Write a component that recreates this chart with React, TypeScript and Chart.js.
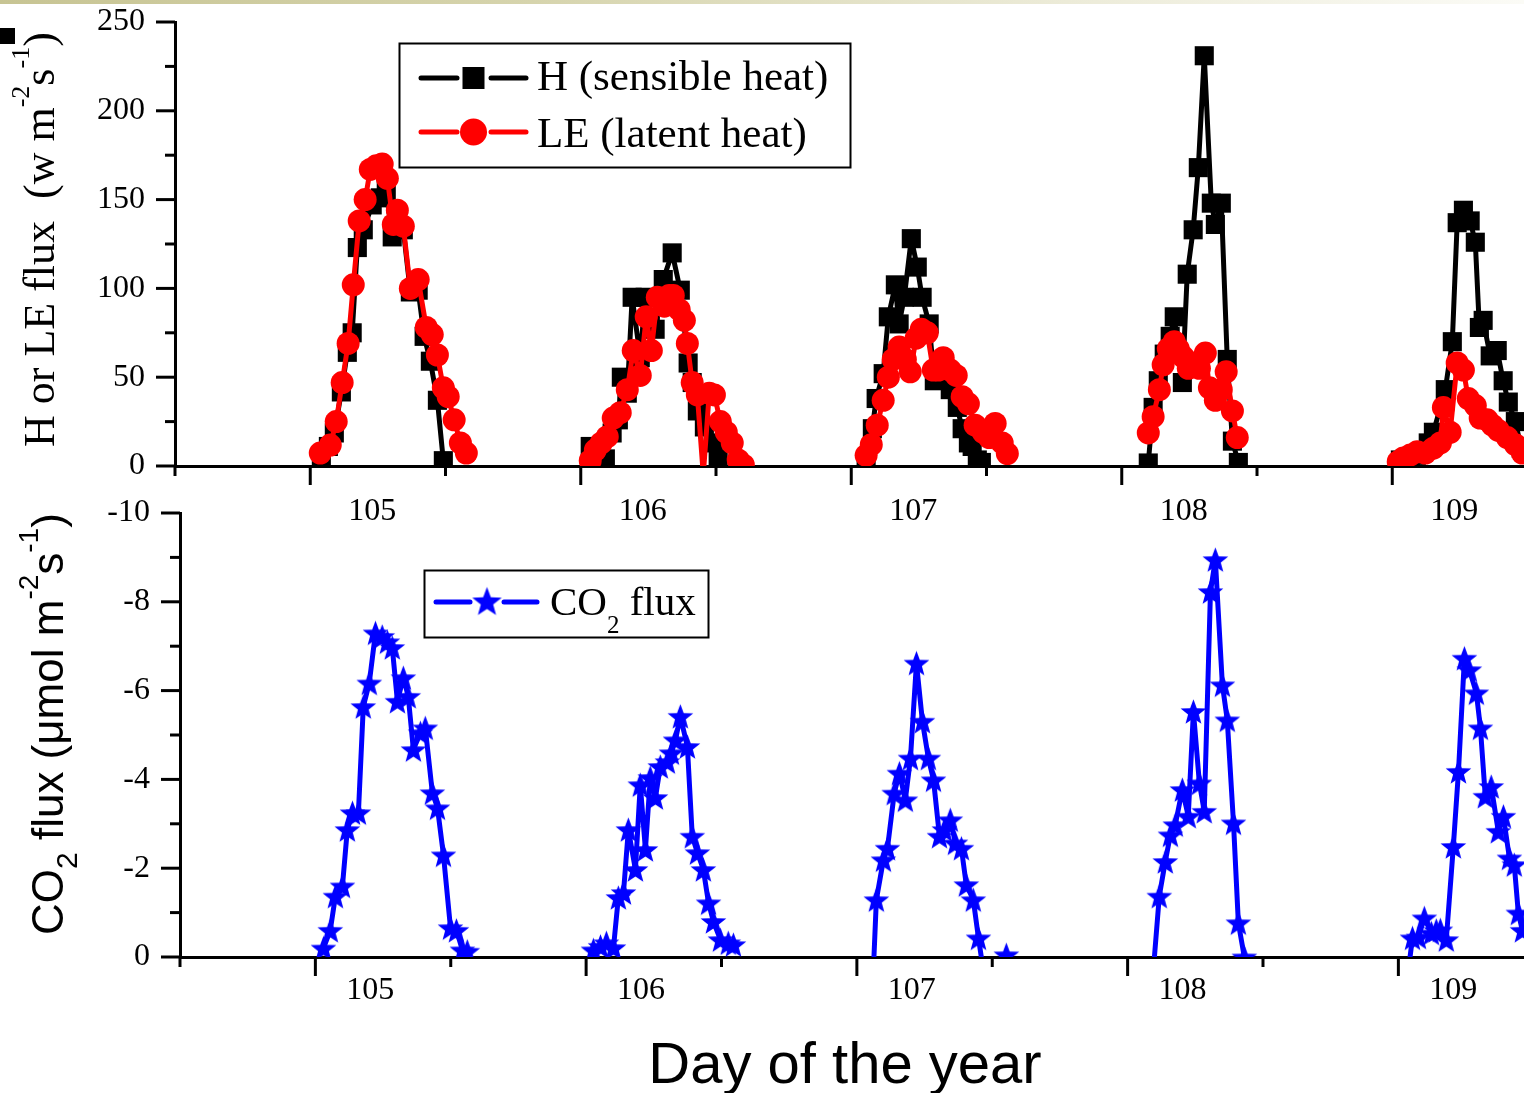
import { useEffect, useRef } from 'react';
import { Chart, registerables } from 'chart.js';

Chart.register(...registerables);

const SERIF = "'Liberation Serif', 'Times New Roman', serif";
const SANS = "'Liberation Sans', Arial, sans-serif";

// ---- axis ticks ----
const DAY_TICKS = [105, 106, 107, 108, 109];
const DAY_MINOR = [104.5, 105.5, 106.5, 107.5, 108.5];
const HEAT_TICKS = [0, 50, 100, 150, 200, 250];
const HEAT_MINOR = [25, 75, 125, 175, 225];
const CO2_TICKS = [-10, -8, -6, -4, -2, 0];
const CO2_MINOR = [-9, -7, -5, -3, -1];

// ---- H (sensible heat), one array per day ----
const H_TIME = [
  [105.041, 105.067, 105.089, 105.115, 105.137, 105.155, 105.174, 105.196, 105.229, 105.259, 105.281, 105.303, 105.344, 105.370, 105.399, 105.421, 105.444, 105.470, 105.492],
  [106.035, 106.057, 106.091, 106.116, 106.139, 106.150, 106.172, 106.190, 106.220, 106.238, 106.257, 106.275, 106.305, 106.338, 106.368, 106.397, 106.412, 106.431, 106.457, 106.490, 106.508],
  [107.055, 107.078, 107.092, 107.118, 107.137, 107.163, 107.177, 107.196, 107.222, 107.244, 107.262, 107.288, 107.307, 107.333, 107.366, 107.392, 107.410, 107.433, 107.447, 107.466, 107.481],
  [108.098, 108.116, 108.135, 108.157, 108.179, 108.194, 108.224, 108.242, 108.264, 108.283, 108.305, 108.331, 108.346, 108.368, 108.390, 108.409, 108.431],
  [109.030, 109.048, 109.067, 109.089, 109.111, 109.133, 109.152, 109.196, 109.222, 109.240, 109.263, 109.288, 109.307, 109.322, 109.336, 109.362, 109.388, 109.410, 109.429, 109.455, 109.477],
];
const H_FLUX = [
  [5.6, 11, 18.6, 41.7, 64, 75, 123, 133, 147, 151, 155, 129, 133, 98, 99, 73, 59, 37, 3],
  [11, 3.4, 4, 18.6, 26, 50, 41, 95, 61, 95, 82, 77, 105, 120, 99, 58, 47, 31, 22, 13, 4],
  [3, 21, 38, 52, 84, 102, 80, 95, 128, 112, 95, 80, 48, 50, 43, 33, 21, 13, 11, 3.4, 2],
  [1.7, 33, 48, 63, 73, 84, 47, 108, 133, 168, 231, 148, 136, 148, 60, 14, 2],
  [3.4, 4, 5, 6, 8, 13, 19, 43, 70, 137, 144, 138, 126, 78, 82, 62, 65, 48, 36, 25, 10],
];

// ---- LE (latent heat) ----
const LE_TIME = [
  [105.037, 105.074, 105.096, 105.118, 105.140, 105.159, 105.181, 105.203, 105.222, 105.244, 105.266, 105.285, 105.307, 105.322, 105.344, 105.370, 105.399, 105.429, 105.451, 105.470, 105.492, 105.510, 105.532, 105.555, 105.577],
  [106.035, 106.054, 106.076, 106.098, 106.120, 106.146, 106.172, 106.194, 106.220, 106.242, 106.261, 106.283, 106.309, 106.327, 106.342, 106.364, 106.383, 106.394, 106.412, 106.431, 106.453, 106.475, 106.494, 106.516, 106.538, 106.560, 106.582, 106.601],
  [107.055, 107.074, 107.096, 107.118, 107.137, 107.155, 107.177, 107.200, 107.218, 107.240, 107.259, 107.281, 107.303, 107.322, 107.340, 107.366, 107.388, 107.410, 107.433, 107.458, 107.488, 107.510, 107.532, 107.558, 107.577],
  [108.098, 108.116, 108.139, 108.153, 108.172, 108.194, 108.209, 108.227, 108.246, 108.264, 108.287, 108.309, 108.324, 108.346, 108.368, 108.386, 108.409, 108.427],
  [109.022, 109.041, 109.067, 109.092, 109.122, 109.152, 109.178, 109.189, 109.214, 109.240, 109.263, 109.281, 109.307, 109.325, 109.351, 109.370, 109.392, 109.425, 109.455, 109.481],
];
const LE_FLUX = [
  [7.3, 11.8, 25, 47, 69, 102, 138, 150, 167, 169, 170, 162, 136, 144, 135, 100, 105, 78, 74, 62.5, 44, 39, 26, 13, 7.3],
  [3, 9, 13, 16.5, 27, 30, 43, 65, 51, 84, 65, 95, 90, 96, 96, 88, 82, 69, 47, 40, -5, 41, 40, 25, 19, 13, 3.4, 0.6],
  [6, 12, 23, 37, 50, 60, 67, 60, 53, 72, 77, 75, 54, 54, 61, 54, 51, 39, 35, 23, 19, 16, 24, 13, 7],
  [18.6, 27.8, 43, 57, 66, 70, 66, 61.5, 55, 58, 55, 63.6, 44, 37, 43, 53, 31, 16],
  [2.4, 4.5, 6.2, 8, 7.3, 10, 13, 33, 19, 58, 54, 38, 34, 27, 26, 23, 20, 16, 12, 7.3],
];

// ---- CO2 flux ----
const CO2_TIME = [
  [105.030, 105.055, 105.074, 105.100, 105.118, 105.137, 105.159, 105.177, 105.199, 105.222, 105.247, 105.266, 105.284, 105.303, 105.325, 105.343, 105.362, 105.388, 105.406, 105.432, 105.451, 105.473, 105.499, 105.521, 105.543, 105.561],
  [106.027, 106.053, 106.075, 106.101, 106.119, 106.138, 106.156, 106.182, 106.200, 106.219, 106.237, 106.256, 106.274, 106.300, 106.315, 106.330, 106.348, 106.374, 106.392, 106.411, 106.433, 106.452, 106.470, 106.496, 106.525, 106.544],
  [107.061, 107.072, 107.098, 107.113, 107.138, 107.157, 107.179, 107.198, 107.220, 107.242, 107.264, 107.283, 107.305, 107.323, 107.345, 107.364, 107.386, 107.404, 107.430, 107.449, 107.467, 107.552],
  [108.095, 108.117, 108.139, 108.158, 108.176, 108.202, 108.224, 108.243, 108.265, 108.283, 108.306, 108.324, 108.350, 108.368, 108.391, 108.409, 108.431],
  [109.037, 109.052, 109.074, 109.096, 109.122, 109.140, 109.155, 109.177, 109.203, 109.222, 109.244, 109.262, 109.288, 109.303, 109.321, 109.343, 109.369, 109.388, 109.410, 109.428, 109.443, 109.458],
];
const CO2_FLUX = [
  [-0.2, -0.6, -1.37, -1.6, -2.87, -3.25, -3.25, -5.64, -6.17, -7.3, -7.22, -7.1, -6.97, -5.76, -6.29, -5.87, -4.67, -5.05, -5.16, -3.7, -3.36, -2.3, -0.66, -0.6, -0.16, -0.13],
  [-0.16, -0.24, -0.32, -0.21, -1.34, -1.45, -2.87, -1.97, -3.88, -2.42, -4.04, -3.59, -4.29, -4.4, -4.6, -4.89, -5.42, -4.74, -2.72, -2.35, -1.97, -1.22, -0.8, -0.39, -0.32, -0.28],
  [0.3, -1.29, -2.19, -2.45, -3.69, -4.14, -3.54, -4.48, -6.62, -5.31, -4.48, -3.99, -2.72, -2.87, -3.09, -2.57, -2.45, -1.63, -1.29, -0.43, 0.3, -0.05],
  [0.3, -1.37, -2.15, -2.75, -2.98, -3.77, -3.17, -5.53, -3.92, -3.28, -8.23, -8.95, -6.13, -5.34, -3.02, -0.77, 0],
  [0.3, -0.43, -0.45, -0.88, -0.54, -0.6, -0.61, -0.39, -2.49, -4.18, -6.73, -6.47, -5.95, -5.16, -3.62, -3.84, -2.83, -3.17, -2.23, -2.08, -0.99, -0.6],
];

type Pt = { x: number; y: number | null };
function toPoints(times: number[][], vals: number[][]): Pt[] {
  const pts: Pt[] = [];
  times.forEach((t, i) => {
    if (i > 0) {
      const prev = times[i - 1];
      pts.push({ x: (prev[prev.length - 1] + t[0]) / 2, y: null });
    }
    t.forEach((x, j) => pts.push({ x, y: vals[i][j] }));
  });
  return pts;
}

function makeStar(size: number, color: string): HTMLCanvasElement {
  const c = document.createElement('canvas');
  c.width = size;
  c.height = size;
  const g = c.getContext('2d')!;
  const R = size / 2;
  const r = R * 0.42;
  const cx = size / 2;
  const cy = size / 2 + R * 0.095;
  g.beginPath();
  for (let i = 0; i < 10; i++) {
    const a = -Math.PI / 2 + (i * Math.PI) / 5;
    const rad = i % 2 === 0 ? R : r;
    g.lineTo(cx + rad * Math.cos(a), cy + rad * Math.sin(a));
  }
  g.closePath();
  g.fillStyle = color;
  g.fill();
  return c;
}

function seg(ctx: CanvasRenderingContext2D, x1: number, y1: number, x2: number, y2: number) {
  ctx.beginPath();
  ctx.moveTo(x1, y1);
  ctx.lineTo(x2, y2);
  ctx.stroke();
}

function drawTicks(chart: any, yMaj: number[], yMin: number[], xMaj: number[], xMin: number[]) {
  const { ctx, chartArea: a, scales } = chart;
  ctx.save();
  ctx.strokeStyle = '#000';
  ctx.lineWidth = 3;
  ctx.lineCap = 'butt';
  for (const v of yMaj) { const p = scales.y.getPixelForValue(v); seg(ctx, a.left, p, a.left - 19, p); }
  for (const v of yMin) { const p = scales.y.getPixelForValue(v); seg(ctx, a.left, p, a.left - 10, p); }
  for (const v of xMaj) { const p = scales.x.getPixelForValue(v); seg(ctx, p, a.bottom, p, a.bottom + 19); }
  for (const v of xMin) { const p = scales.x.getPixelForValue(v); seg(ctx, p, a.bottom, p, a.bottom + 10); }
  ctx.restore();
}

type Seg = [string, number, number];
function drawRich(ctx: CanvasRenderingContext2D, segs: Seg[], family: string, x: number, y: number, rotated: boolean, align: 'left' | 'center' = 'left') {
  ctx.save();
  ctx.translate(x, y);
  if (rotated) ctx.rotate(-Math.PI / 2);
  ctx.fillStyle = '#000';
  ctx.textBaseline = 'alphabetic';
  ctx.textAlign = 'left';
  let total = 0;
  for (const [t, s] of segs) { ctx.font = `${s}px ${family}`; total += ctx.measureText(t).width; }
  let cx = align === 'center' ? -total / 2 : 0;
  for (const [t, s, dy] of segs) {
    ctx.font = `${s}px ${family}`;
    ctx.fillText(t, cx, dy);
    cx += ctx.measureText(t).width;
  }
  ctx.restore();
}

const noPad = (s: any) => {
  s.paddingTop = 0;
  s.paddingBottom = 0;
  s.paddingLeft = 0;
  s.paddingRight = 0;
};

export default function App() {
  const topRef = useRef<HTMLCanvasElement>(null);
  const botRef = useRef<HTMLCanvasElement>(null);

  useEffect(() => {
    Chart.defaults.color = '#000';
    const star = makeStar(27, '#0000ff');
    const starLegend = makeStar(31, '#0000ff');

    const tickFont = { family: SERIF, size: 32 };

    const topDecor = {
      id: 'topDecor',
      afterDraw(chart: any) {
        const ctx: CanvasRenderingContext2D = chart.ctx;
        drawTicks(chart, HEAT_TICKS, HEAT_MINOR, DAY_TICKS, DAY_MINOR);
        drawRich(ctx, [['H or LE flux  (w m', 44, 0], ['-2', 26, -25], ['s', 44, 0], ['-1', 26, -25], [')', 44, 0]], SERIF, 54, 447, true);
        ctx.save();
        ctx.fillStyle = '#000';
        ctx.fillRect(0, 28, 15, 16);
        // legend
        ctx.lineWidth = 2;
        ctx.strokeStyle = '#000';
        ctx.strokeRect(399.5, 43.5, 451, 124);
        ctx.lineCap = 'round';
        ctx.lineWidth = 5;
        seg(ctx, 421, 78, 457, 78);
        seg(ctx, 491, 78, 526, 78);
        ctx.fillRect(462.5, 67, 22, 22);
        ctx.strokeStyle = '#ff0000';
        ctx.fillStyle = '#ff0000';
        seg(ctx, 421, 132, 457, 132);
        seg(ctx, 491, 132, 526, 132);
        ctx.beginPath();
        ctx.arc(473.5, 132, 13.5, 0, Math.PI * 2);
        ctx.fill();
        ctx.restore();
        drawRich(ctx, [['H (sensible heat)', 43, 0]], SERIF, 537, 90, false);
        drawRich(ctx, [['LE (latent heat)', 43, 0]], SERIF, 537, 146.5, false);
      },
    };

    const botDecor = {
      id: 'botDecor',
      afterDraw(chart: any) {
        const ctx: CanvasRenderingContext2D = chart.ctx;
        drawTicks(chart, CO2_TICKS, CO2_MINOR, DAY_TICKS, DAY_MINOR);
        drawRich(ctx, [['CO', 44, 0], ['2', 30, 14], [' flux (μmol m', 44, 0], ['-2', 28, -25], ['s', 44, 0], ['-1', 28, -25], [')', 44, 0]], SANS, 63, 455, true);
        drawRich(ctx, [['Day of the year', 58, 0]], SANS, 845, 603, false, 'center');
        // legend
        ctx.save();
        ctx.lineWidth = 2;
        ctx.strokeStyle = '#000';
        ctx.strokeRect(424.5, 90.5, 284, 67);
        ctx.lineCap = 'round';
        ctx.lineWidth = 5;
        ctx.strokeStyle = '#0000ff';
        seg(ctx, 436, 122, 470, 122);
        seg(ctx, 504, 122, 537, 122);
        ctx.drawImage(starLegend, 487 - starLegend.width / 2, 121 - starLegend.height / 2);
        ctx.restore();
        drawRich(ctx, [['CO', 41, 0], ['2', 25, 18], [' flux', 41, 0]], SERIF, 550, 135, false);
      },
    };

    const top = new Chart(topRef.current!, {
      type: 'line',
      data: {
        datasets: [
          {
            label: 'LE (latent heat)',
            data: toPoints(LE_TIME, LE_FLUX) as any,
            borderColor: '#ff0000',
            backgroundColor: '#ff0000',
            borderWidth: 5,
            borderCapStyle: 'round',
            borderJoinStyle: 'round',
            pointStyle: 'circle',
            pointRadius: (c: any) => (c.raw && c.raw.y !== null && c.raw.y < 0 ? 0 : 11.5),
            pointBorderWidth: 0,
            pointBackgroundColor: '#ff0000',
            tension: 0,
          },
          {
            label: 'H (sensible heat)',
            data: toPoints(H_TIME, H_FLUX) as any,
            borderColor: '#000000',
            backgroundColor: '#000000',
            borderWidth: 5,
            borderCapStyle: 'round',
            borderJoinStyle: 'round',
            pointStyle: 'rect',
            pointRadius: 13.5,
            pointBorderWidth: 0,
            pointBackgroundColor: '#000000',
            tension: 0,
          },
        ],
      },
      options: {
        responsive: false,
        animation: false,
        events: [],
        devicePixelRatio: 1,
        layout: { autoPadding: false, padding: { top: 22, left: 0, right: 0, bottom: 0 } },
        plugins: { legend: { display: false }, tooltip: { enabled: false } },
        scales: {
          x: {
            type: 'linear',
            min: 104.5,
            max: 109.487,
            afterBuildTicks: (s: any) => { s.ticks = DAY_TICKS.map((v) => ({ value: v })); },
            afterFit: (s: any) => { s.height = 74; noPad(s); },
            ticks: { font: tickFont, color: '#000', padding: 26, labelOffset: 62, autoSkip: false, maxRotation: 0, callback: (v: any) => String(v) },
            grid: { display: false, drawTicks: false },
            border: { display: true, color: '#000', width: 3 },
          },
          y: {
            type: 'linear',
            min: 0,
            max: 250,
            afterBuildTicks: (s: any) => { s.ticks = HEAT_TICKS.map((v) => ({ value: v })); },
            afterFit: (s: any) => { s.width = 175; noPad(s); },
            ticks: { font: tickFont, color: '#000', padding: 30, autoSkip: false, callback: (v: any) => String(v) },
            grid: { display: false, drawTicks: false },
            border: { display: true, color: '#000', width: 3 },
          },
        },
      },
      plugins: [topDecor],
    });

    const bot = new Chart(botRef.current!, {
      type: 'line',
      data: {
        datasets: [
          {
            label: 'CO2 flux',
            data: toPoints(CO2_TIME, CO2_FLUX) as any,
            borderColor: '#0000ff',
            backgroundColor: '#0000ff',
            borderWidth: 5,
            borderCapStyle: 'round',
            borderJoinStyle: 'round',
            pointStyle: star as any,
            pointRadius: (c: any) => (c.raw && c.raw.y !== null && c.raw.y > 0.1 ? 0 : 12),
            pointBorderWidth: 0,
            tension: 0,
          },
        ],
      },
      options: {
        responsive: false,
        animation: false,
        events: [],
        devicePixelRatio: 1,
        layout: { autoPadding: false, padding: { top: 33, left: 0, right: 0, bottom: 0 } },
        plugins: { legend: { display: false }, tooltip: { enabled: false } },
        scales: {
          x: {
            type: 'linear',
            min: 104.5,
            max: 109.464,
            afterBuildTicks: (s: any) => { s.ticks = DAY_TICKS.map((v) => ({ value: v })); },
            afterFit: (s: any) => { s.height = 136; noPad(s); },
            ticks: { font: tickFont, color: '#000', padding: 14, labelOffset: 55, autoSkip: false, maxRotation: 0, callback: (v: any) => String(v) },
            grid: { display: false, drawTicks: false },
            border: { display: true, color: '#000', width: 3 },
          },
          y: {
            type: 'linear',
            reverse: true,
            min: -10,
            max: 0,
            afterBuildTicks: (s: any) => { s.ticks = CO2_TICKS.map((v) => ({ value: v })); },
            afterFit: (s: any) => { s.width = 180; noPad(s); },
            ticks: { font: tickFont, color: '#000', padding: 30, autoSkip: false, callback: (v: any) => String(v) },
            grid: { display: false, drawTicks: false },
            border: { display: true, color: '#000', width: 3 },
          },
        },
      },
      plugins: [botDecor],
    });

    return () => {
      top.destroy();
      bot.destroy();
    };
  }, []);

  return (
    <div style={{ position: 'fixed', left: 0, top: 0, width: 1524, height: 1093, background: '#ffffff', overflow: 'hidden' }}>
      <div
        style={{
          position: 'absolute', left: 0, top: 0, width: 1524, height: 4,
          background: 'linear-gradient(to right, #c7c493 0%, #d6d4ad 35%, #ecebd8 70%, #fbfbf6 100%)',
        }}
      />
      <canvas ref={topRef} width={1524} height={540} style={{ position: 'absolute', left: 0, top: 0 }} />
      <canvas ref={botRef} width={1524} height={613} style={{ position: 'absolute', left: 0, top: 480 }} />
    </div>
  );
}
